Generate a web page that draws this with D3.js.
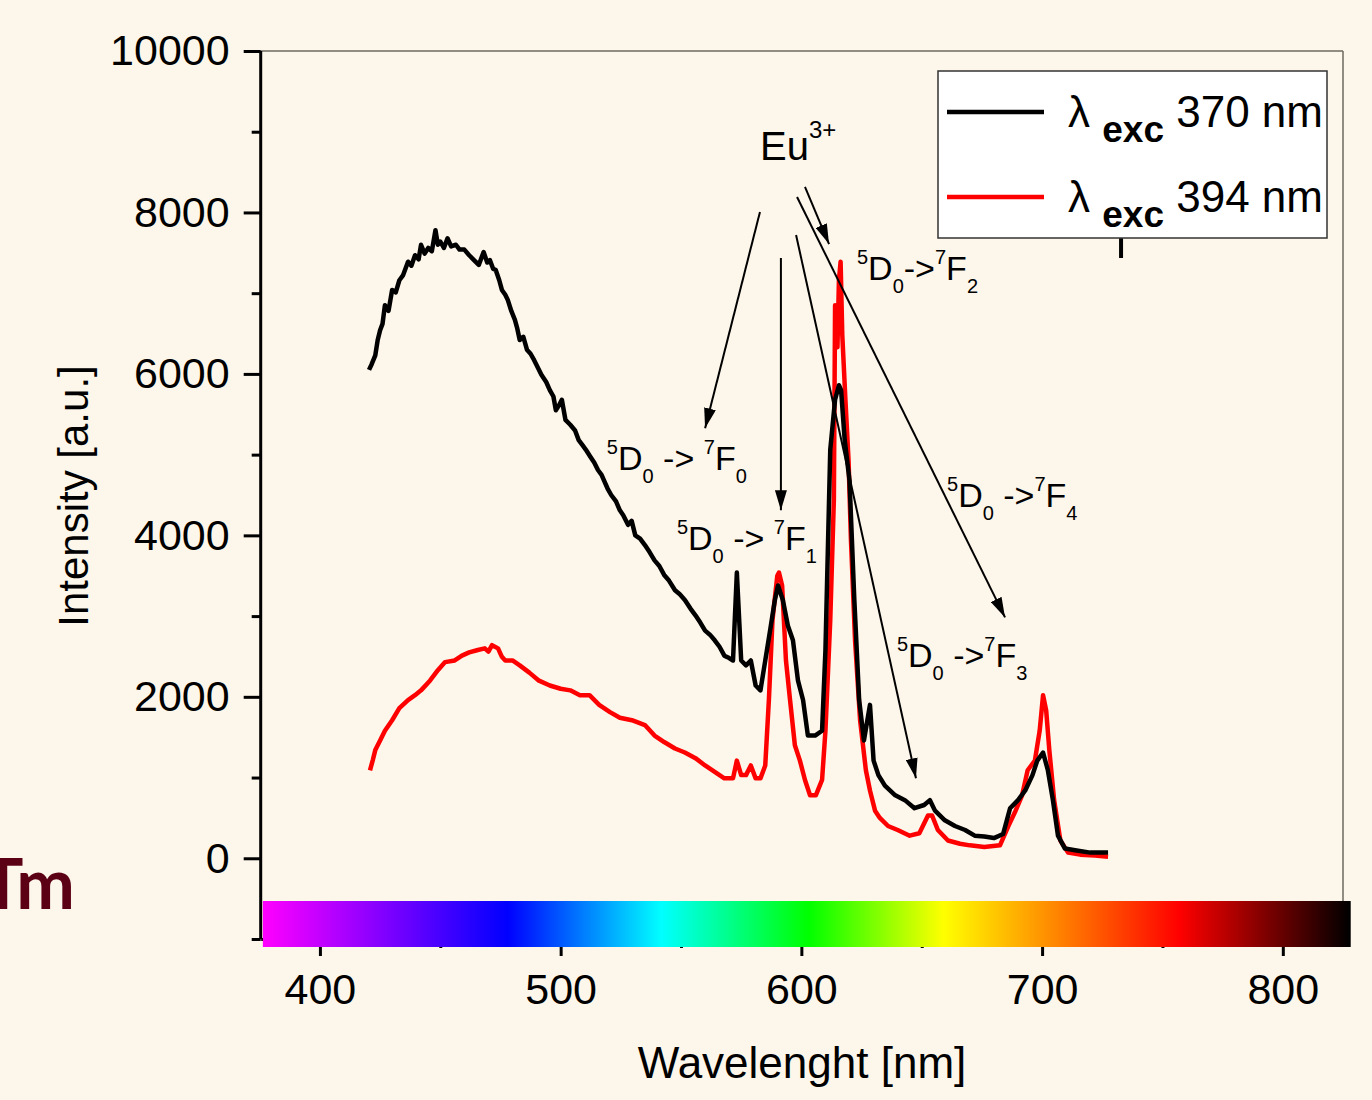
<!DOCTYPE html>
<html>
<head>
<meta charset="utf-8">
<script src="https://cdn.jsdelivr.net/npm/d3@7"></script>
<style>
  body { margin: 0; background: #fdf6ea; }
  svg { display: block; font-family: "Liberation Sans", Arial, sans-serif; }
</style>
</head>
<body>
<script>
//emission spectra, excitation at 370 nm (black)
var wave370 = [420.4, 421.5, 423, 424, 425, 426, 427, 428.5, 430, 431.5, 433, 434.5, 436.6, 438, 439.5, 441, 442, 443.5, 445, 446.5,
  448, 449, 450, 451.5, 453, 454.5, 456.5, 458, 460, 462, 464, 466, 468, 469.5, 470.6, 472, 473, 474.5, 475.6, 477,
  478, 479.5, 481, 482, 483, 484.5, 486, 487.5, 489, 490.5, 492, 494, 495.5, 497, 498, 499.5, 500.5, 502, 504, 506,
  507.5, 509, 510.5, 512, 514, 515.5, 517, 518, 519.5, 521, 523, 524.6, 526, 528, 529.5, 531, 533, 535, 537, 539,
  541, 543, 545, 547.5, 549.5, 551.6, 554, 556, 558, 560, 562, 564, 566, 568, 570, 571.6, 573.2, 575, 577, 579,
  581, 583, 585, 587, 589, 590.3, 592.3, 594.4, 596.5, 598.6, 600.7, 602.7, 605.7, 608.6, 610, 612, 614, 615.6, 616.5, 618,
  620, 622, 624, 626, 628.5, 630, 632, 634.7, 639, 643, 647, 651, 653.4, 655.5, 659.6, 663.8, 668, 672, 676, 680,
  683.8, 686.7, 690, 693, 696, 698, 700.4, 702.4, 704.5, 706.6, 709.5, 713.7, 720, 727.4];
var int370 = [6050, 6120, 6230, 6420, 6540, 6620, 6850, 6780, 7040, 7010, 7160, 7220, 7390, 7340, 7470, 7420, 7600, 7490, 7560, 7520,
  7780, 7600, 7640, 7560, 7680, 7580, 7600, 7540, 7540, 7470, 7410, 7350, 7510, 7380, 7410, 7300, 7290, 7160, 7040, 6980,
  6920, 6780, 6670, 6560, 6420, 6460, 6300, 6250, 6170, 6080, 5990, 5900, 5800, 5720, 5550, 5620, 5680, 5430, 5370, 5300,
  5180, 5120, 5060, 4990, 4900, 4810, 4750, 4680, 4580, 4500, 4420, 4310, 4250, 4130, 4180, 4000, 3960, 3880, 3790, 3690,
  3620, 3510, 3440, 3320, 3270, 3200, 3090, 3010, 2920, 2820, 2770, 2700, 2620, 2510, 2480, 2450, 3540, 2450, 2390, 2450,
  2140, 2080, 2450, 2820, 3200, 3380, 3200, 2880, 2700, 2200, 1960, 1520, 1520, 1580, 2580, 5060, 5680, 5860, 5800, 5180,
  4680, 3200, 1960, 1460, 1900, 1210, 1030, 900, 780, 720, 620, 660, 720, 590, 470, 400, 350, 280, 270, 250,
  300, 620, 720, 840, 1030, 1210, 1310, 1090, 720, 280, 120, 100, 70, 70];

//emission spectra, excitation at 394 nm (red)
var wave394 = [420.8, 422, 423, 425, 427, 430, 433, 436.6, 439.5, 442, 445.7, 449, 452, 456, 459, 462, 465.6, 468.5, 470, 471.5, 474, 475.5, 477,
  480, 483, 487, 491, 495.5, 500, 504, 508, 512, 516, 520.5, 524.6, 529.6, 535, 539, 543, 547.5, 551.6, 556, 560,
  564, 568, 571.6, 573.2, 575, 577, 579, 581, 583, 585, 586.5, 588, 590, 590.7, 592, 593.6, 595.3, 597.3, 599.4, 601.5,
  603.6, 606, 608.6, 610, 612, 613.5, 614, 615, 615.6, 616.3, 617, 618.3, 619.6, 620.6, 622.3, 624.4, 626.8, 628.5, 630.6, 632.6,
  636, 640, 645, 649, 652.6, 654.3, 656.7, 660.9, 665.9, 670, 676, 682.5, 686, 688.7, 691.7, 694, 697, 699, 700.4, 701.7,
  703, 705, 707.6, 710.8, 715.8, 722, 727.4];
var int394 = [1090, 1220, 1340, 1460, 1580, 1710, 1860, 1960, 2020, 2080, 2200, 2330, 2430, 2450, 2510, 2550, 2580, 2600, 2560, 2640, 2600, 2500, 2450,
  2450, 2390, 2300, 2200, 2140, 2100, 2080, 2020, 2020, 1900, 1810, 1740, 1710, 1650, 1520, 1440, 1360, 1310, 1240, 1150,
  1070, 990, 990, 1210, 1030, 1030, 1150, 990, 990, 1150, 1960, 2950, 3500, 3540, 3380, 2450, 1960, 1400, 1210, 970,
  780, 780, 970, 1580, 2950, 4440, 6850, 6330, 7160, 7390, 6480, 5680, 4930, 3940, 2700, 1710, 1090, 840, 590, 500,
  400, 350, 280, 310, 530, 530, 350, 220, 180, 160, 140, 160, 400, 570, 780, 1090, 1210, 1580, 2020, 1830,
  1340, 720, 220, 70, 45, 35, 20];

//axis ticks
var yMajor = [0, 2000, 4000, 6000, 8000, 10000];
var yMinor = [-1000, 1000, 3000, 5000, 7000, 9000];
var xMajor = [400, 500, 600, 700, 800];
var xMinor = [450, 550, 650, 750];

//visible spectrum colour bar
var barWave = [376, 478, 542, 603, 659, 757, 828];
var barColor = ["#ff00ff", "#0000ff", "#00ffff", "#00ff00", "#ffff00", "#ff0000", "#000000"];

//legend
var legendLabels = ["370 nm", "394 nm"];
var legendColors = ["#000000", "#ff0000"];

//annotations (data coordinates)
var arrowFrom = [[582.8, 8006], [591.5, 7436], [597.8, 7721], [598.2, 8192], [601.5, 8316]];
var arrowTo = [[560, 5328], [591.5, 4311], [647.6, 991], [684.6, 2984], [611.5, 7609]];
var transLabels = [
  {at: [519.2, 4808], lower: "0", arrow: " -> ", upper: "0"},
  {at: [548.3, 3815], lower: "0", arrow: " -> ", upper: "1"},
  {at: [623.1, 7163], lower: "0", arrow: "->", upper: "2"},
  {at: [660.5, 4350], lower: "0", arrow: " ->", upper: "4"},
  {at: [639.7, 2365], lower: "0", arrow: " ->", upper: "3"}
];

var width = 1372,
    height = 1100;

var svg = d3.select("body")
    .append("svg")
    .attr("width", width)
    .attr("height", height);

svg.append("rect")
    .attr("width", width)
    .attr("height", height)
    .attr("fill", "#fdf6ea");

var x = d3.scaleLinear()
    .domain([375.4, 825])
    .range([260.7, 1343]);

var y = d3.scaleLinear()
    .domain([-1000, 10000])
    .range([939, 51]);

//arrow head
svg.append("defs").append("marker")
    .attr("id", "head")
    .attr("markerUnits", "userSpaceOnUse")
    .attr("viewBox", "0 -6 20 12")
    .attr("refX", 20)
    .attr("refY", 0)
    .attr("markerWidth", 20)
    .attr("markerHeight", 12)
    .attr("orient", "auto")
  .append("path")
    .attr("d", "M0,-6L20,0L0,6Z")
    .attr("fill", "#000");

//frame top and right
svg.append("line")
    .attr("x1", x.range()[0]).attr("x2", x.range()[1])
    .attr("y1", y.range()[1]).attr("y2", y.range()[1])
    .attr("stroke", "#6e6a60").attr("stroke-width", 1.5);
svg.append("line")
    .attr("x1", x.range()[1]).attr("x2", x.range()[1])
    .attr("y1", y.range()[1]).attr("y2", 901)
    .attr("stroke", "#6e6a60").attr("stroke-width", 1.5);

//x axis (under the colour bar)
var xAxis = svg.append("g")
    .attr("transform", "translate(0," + y.range()[0] + ")")
    .call(d3.axisBottom(x).tickValues(xMajor).tickSize(17).tickSizeOuter(0).tickPadding(17).tickFormat(d3.format("d")));
svg.append("g")
    .attr("transform", "translate(0," + y.range()[0] + ")")
    .call(d3.axisBottom(x).tickValues(xMinor).tickSize(9).tickSizeOuter(0).tickFormat(""))
    .select(".domain").remove();

//y axis
var yAxis = svg.append("g")
    .attr("transform", "translate(" + x.range()[0] + ",0)")
    .call(d3.axisLeft(y).tickValues(yMajor).tickSize(17).tickSizeOuter(0).tickPadding(14).tickFormat(d3.format("d")));
svg.append("g")
    .attr("transform", "translate(" + x.range()[0] + ",0)")
    .call(d3.axisLeft(y).tickValues(yMinor).tickSize(9).tickSizeOuter(0).tickFormat(""))
    .select(".domain").remove();

svg.selectAll(".tick line, .domain")
    .attr("stroke", "#000")
    .attr("stroke-width", 3);
svg.selectAll(".tick text")
    .attr("font-size", 43)
    .attr("font-family", "Liberation Sans, Arial, sans-serif")
    .attr("fill", "#000");
yAxis.select(".domain").attr("d", "M0," + y.range()[0] + "V" + y.range()[1]);

//colour bar
var grad = svg.select("defs").append("linearGradient")
    .attr("id", "spectrum");
var barX0 = x(376.3),
    barX1 = x(828.2);
grad.selectAll("stop")
    .data(barWave)
    .enter()
    .append("stop")
    .attr("offset", function(d){ return (x(d) - barX0) / (barX1 - barX0); })
    .attr("stop-color", function(d, i){ return barColor[i]; });
svg.append("rect")
    .attr("x", barX0)
    .attr("y", 901)
    .attr("width", barX1 - barX0)
    .attr("height", 46)
    .attr("fill", "url(#spectrum)");

//spectra
var line = d3.line()
    .x(function(d){ return x(d[0]); })
    .y(function(d){ return y(d[1]); });

svg.append("path")
    .datum(d3.zip(wave394, int394))
    .attr("fill", "none")
    .attr("stroke", "#ff0000")
    .attr("stroke-width", 4.5)
    .attr("stroke-linejoin", "round")
    .attr("d", line);

svg.append("path")
    .datum(d3.zip(wave370, int370))
    .attr("fill", "none")
    .attr("stroke", "#000000")
    .attr("stroke-width", 4.5)
    .attr("stroke-linejoin", "round")
    .attr("d", line);

//stray tick under legend
svg.append("line")
    .attr("x1", x(732.8)).attr("x2", x(732.8))
    .attr("y1", y(7683)).attr("y2", y(7436))
    .attr("stroke", "#000").attr("stroke-width", 4);

//arrows
svg.selectAll(".arrow")
    .data(arrowFrom)
    .enter()
    .append("line")
    .attr("class", "arrow")
    .attr("x1", function(d){ return x(d[0]); })
    .attr("y1", function(d){ return y(d[1]); })
    .attr("x2", function(d, i){ return x(arrowTo[i][0]); })
    .attr("y2", function(d, i){ return y(arrowTo[i][1]); })
    .attr("stroke", "#000")
    .attr("stroke-width", 2)
    .attr("marker-end", "url(#head)");

//Eu3+
var eu = svg.append("text")
    .attr("x", x(582.8))
    .attr("y", y(8650))
    .attr("font-size", 40);
eu.append("tspan").text("Eu");
eu.append("tspan").attr("font-size", 24).attr("dy", -22).text("3+");

//transition labels
transLabels.forEach(function(t){
  var txt = svg.append("text")
      .attr("x", x(t.at[0]))
      .attr("y", y(t.at[1]))
      .attr("font-size", 34)
      .attr("xml:space", "preserve");
  txt.append("tspan").attr("font-size", 20).attr("dy", -16).text("5");
  txt.append("tspan").attr("dy", 16).text("D");
  txt.append("tspan").attr("font-size", 20).attr("dy", 13).text(t.lower);
  txt.append("tspan").attr("dy", -13).text(t.arrow);
  txt.append("tspan").attr("font-size", 20).attr("dy", -16).text("7");
  txt.append("tspan").attr("dy", 16).text("F");
  txt.append("tspan").attr("font-size", 20).attr("dy", 13).text(t.upper);
});

//legend
var legend = svg.append("g");
legend.append("rect")
    .attr("x", 938)
    .attr("y", 71)
    .attr("width", 389)
    .attr("height", 167)
    .attr("fill", "#ffffff")
    .attr("stroke", "#333")
    .attr("stroke-width", 1.5);
legendLabels.forEach(function(lab, i){
  var yy = 112 + i * 85;
  legend.append("line")
      .attr("x1", 947).attr("x2", 1044)
      .attr("y1", yy).attr("y2", yy)
      .attr("stroke", legendColors[i])
      .attr("stroke-width", 4.5);
  var t = legend.append("text")
      .attr("x", 1068)
      .attr("y", yy + 15)
      .attr("font-size", 44)
      .attr("xml:space", "preserve");
  t.append("tspan").text("\u03bb ");
  t.append("tspan").attr("font-size", 37).attr("font-weight", "bold").attr("dy", 15).text("exc");
  t.append("tspan").attr("dy", -15).text(" " + lab);
});

//axis titles
svg.append("text")
    .attr("transform", "translate(88,496) rotate(-90)")
    .attr("text-anchor", "middle")
    .attr("font-size", 42)
    .text("Intensity [a.u.]");

svg.append("text")
    .attr("x", 802)
    .attr("y", 1078)
    .attr("text-anchor", "middle")
    .attr("font-size", 44)
    .text("Wavelenght [nm]");

//cut off slide text on the left
svg.append("text")
    .attr("x", 75)
    .attr("y", 909)
    .attr("text-anchor", "end")
    .attr("font-family", "Lato, 'Open Sans', sans-serif")
    .attr("font-weight", "bold")
    .attr("font-size", 70)
    .attr("fill", "#5c0016")
    .text("Tm");
</script>
</body>
</html>
